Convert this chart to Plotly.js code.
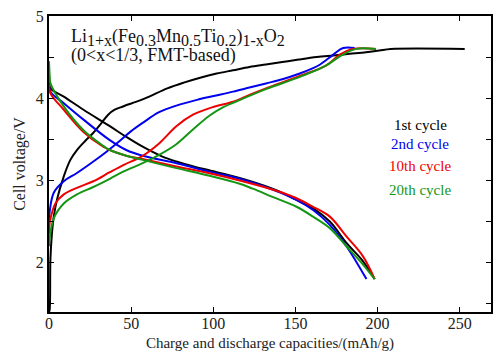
<!DOCTYPE html>
<html>
<head>
<meta charset="utf-8">
<script src="https://cdn.plot.ly/plotly-3.0.1.min.js"></script>
<style>html,body{margin:0;padding:0;background:#fff;}#chart{width:500px;height:354px;}</style>
</head>
<body>
<div id="chart"></div>
<script>
// ---- data (capacity mAh/g, voltage V) ----
var c1ChargeX = [0, 0.4, 0.85, 1.8, 2.9, 4.9, 9, 13, 17, 22, 27, 32, 36, 40, 45, 55, 61, 72, 82, 92, 102, 112, 122, 132, 142, 152, 163, 173, 183, 193, 201, 208, 253];
var c1ChargeY = [1.40, 1.43, 2.04, 2.36, 2.56, 2.77, 3.05, 3.25, 3.37, 3.48, 3.58, 3.70, 3.80, 3.86, 3.90, 3.97, 4.02, 4.12, 4.19, 4.25, 4.30, 4.34, 4.38, 4.41, 4.44, 4.47, 4.50, 4.52, 4.54, 4.56, 4.58, 4.60, 4.60];
var c1DischX = [0, 0.9, 9, 21, 37, 47, 57, 69, 77.5, 88, 98, 116, 136, 143, 150, 160.7, 170.9, 181, 191, 198.2];
var c1DischY = [4.22, 4.12, 4.02, 3.86, 3.66, 3.53, 3.41, 3.29, 3.23, 3.17, 3.12, 3.03, 2.90, 2.84, 2.77, 2.66, 2.50, 2.24, 2.02, 1.80];

var c2ChargeX = [0, 0.4, 2.9, 9, 17, 27, 35, 43, 50, 57, 67, 77.5, 90, 101, 112, 122, 132, 142, 152.6, 160, 165, 173, 179, 186];
var c2ChargeY = [2.50, 2.62, 2.85, 2.99, 3.09, 3.23, 3.35, 3.48, 3.60, 3.70, 3.83, 3.91, 3.98, 4.03, 4.08, 4.13, 4.18, 4.23, 4.30, 4.36, 4.41, 4.53, 4.61, 4.61];
var c2DischX = [0, 0.9, 9, 21, 37, 47, 57, 77.5, 97, 116, 136, 150, 160.7, 170.9, 181, 193.2];
var c2DischY = [4.25, 4.08, 3.94, 3.74, 3.49, 3.37, 3.30, 3.21, 3.11, 3.02, 2.89, 2.77, 2.64, 2.46, 2.20, 1.80];

var c10ChargeX = [0, 0.4, 3.9, 9, 17, 27, 37, 45.5, 57, 67, 77.5, 87.6, 97.8, 114, 122, 132, 152.6, 168.8, 177, 185, 199];
var c10ChargeY = [2.35, 2.48, 2.72, 2.83, 2.91, 2.99, 3.10, 3.19, 3.30, 3.45, 3.66, 3.80, 3.88, 3.97, 4.04, 4.12, 4.27, 4.40, 4.53, 4.60, 4.60];
var c10DischX = [0, 0.9, 9, 21, 33, 37, 47, 57, 77.5, 97, 116, 136, 150, 160.7, 170.9, 181, 191, 198.2];
var c10DischY = [4.17, 4.06, 3.86, 3.59, 3.41, 3.37, 3.30, 3.26, 3.17, 3.09, 3.00, 2.89, 2.79, 2.68, 2.56, 2.32, 2.08, 1.80];

var c20ChargeX = [0, 0.4, 2.9, 9, 17, 27, 37, 45.5, 57, 67, 77.5, 87.6, 97.8, 105, 114, 132, 152.6, 168, 178, 187, 199];
var c20ChargeY = [2.20, 2.30, 2.54, 2.72, 2.83, 2.92, 3.02, 3.11, 3.21, 3.31, 3.44, 3.62, 3.79, 3.88, 3.96, 4.11, 4.26, 4.39, 4.52, 4.60, 4.60];
var c20DischX = [0, 0.5, 0.9, 9, 21, 33, 37, 47, 57, 77.5, 97, 116, 124, 136, 150.6, 160.7, 170.9, 181, 191, 198.2];
var c20DischY = [4.45, 4.25, 4.18, 3.90, 3.61, 3.42, 3.37, 3.30, 3.25, 3.15, 3.06, 2.96, 2.90, 2.80, 2.68, 2.56, 2.42, 2.20, 1.98, 1.80];

var cycleNames = ['1st cycle', '2nd cycle', '10th cycle', '20th cycle'];
var cycleColors = ['#000000', '#0000ee', '#ee0000', '#149614'];

var series = [
  [c1ChargeX, c1ChargeY, c1DischX, c1DischY],
  [c2ChargeX, c2ChargeY, c2DischX, c2DischY],
  [c10ChargeX, c10ChargeY, c10DischX, c10DischY],
  [c20ChargeX, c20ChargeY, c20DischX, c20DischY]
];

var traces = [];
series.forEach(function (s, i) {
  traces.push({x: s[0], y: s[1], mode: 'lines', name: cycleNames[i], showlegend: false,
    line: {color: cycleColors[i], width: 2, shape: 'spline', smoothing: 1}});
  traces.push({x: s[2], y: s[3], mode: 'lines', name: cycleNames[i], showlegend: false,
    line: {color: cycleColors[i], width: 2, shape: 'spline', smoothing: 1}});
});

var serif = 'Liberation Serif';
function sb(t) { return '<sub><span style="font-size:16px">' + t + '</span></sub>'; }
var legendY = [125, 144, 166, 190];
var annotations = [
  {xref: 'paper', yref: 'paper', x: (69 - 49) / 442, y: 1 - (37 - 16) / 296, xanchor: 'left', yanchor: 'middle',
   showarrow: false, text: 'Li' + sb('1+x') + '(Fe' + sb('0.3') + 'Mn' + sb('0.5') + 'Ti' + sb('0.2') + ')' + sb('1-x') + 'O' + sb('2'),
   font: {family: serif, size: 18, color: '#111'}},
  {xref: 'paper', yref: 'paper', x: (69 - 49) / 442, y: 1 - (55 - 16) / 296, xanchor: 'left', yanchor: 'middle',
   showarrow: false, text: '(0&lt;x&lt;1/3, FMT-based)', font: {family: serif, size: 18, color: '#111'}}
];
cycleNames.forEach(function (n, i) {
  annotations.push({xref: 'paper', yref: 'paper', x: (420 - 49) / 442, y: 1 - (legendY[i] - 16) / 296,
    xanchor: 'center', yanchor: 'middle', showarrow: false, text: n,
    font: {family: serif, size: 15, color: cycleColors[i]}});
});

var layout = {
  width: 500, height: 354,
  margin: {l: 49, r: 9, t: 16, b: 42},
  paper_bgcolor: '#fff', plot_bgcolor: '#fff',
  font: {family: serif, color: '#222'},
  showlegend: false,
  xaxis: {
    range: [0, 269], dtick: 50, tick0: 0, showgrid: false, zeroline: false,
    showline: true, linecolor: '#000', linewidth: 2, mirror: 'ticks',
    ticks: 'inside', ticklen: 5, tickcolor: '#000', tickwidth: 1,
    ticklabelstandoff: -4,
    tickfont: {family: serif, size: 16, color: '#222'},
    title: {text: 'Charge and discharge capacities/(mAh/g)', font: {family: serif, size: 15, color: '#222'}, standoff: 6}
  },
  yaxis: {
    range: [1.4, 5], tickvals: [2, 3, 4, 5], showgrid: false, zeroline: false,
    showline: true, linecolor: '#000', linewidth: 2, mirror: 'ticks',
    ticks: 'inside', ticklen: 5, tickcolor: '#000', tickwidth: 1,
    minor: {dtick: 0.5, tick0: 1.5, ticks: 'inside', ticklen: 5, tickcolor: '#000', showgrid: false},
    tickfont: {family: serif, size: 16, color: '#222'},
    title: {text: 'Cell voltage/V', font: {family: serif, size: 16, color: '#222'}, standoff: 6}
  },
  annotations: annotations
};

Plotly.newPlot('chart', traces, layout, {displayModeBar: false, staticPlot: true});
</script>
</body>
</html>
